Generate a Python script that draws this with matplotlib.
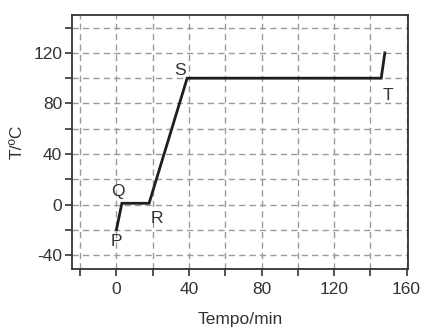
import matplotlib
matplotlib.use("Agg")
import matplotlib.pyplot as plt
from matplotlib.ticker import MultipleLocator

plt.rcParams['font.family'] = ['Liberation Sans', 'DejaVu Sans']
plt.rcParams['axes.unicode_minus'] = False

tempo = [0, 3, 18, 39, 146, 148]
temp = [-20, 1, 1, 100, 100, 120]
point_labels = ['P', 'Q', 'R', 'S', 'T']
label_pos = [(0, -29), (1, 10), (22.5, -11), (35, 106), (149.5, 86)]
xticks = [0, 40, 80, 120, 160]
yticks = [-40, 0, 40, 80, 120]

fig = plt.figure(figsize=(4.23, 3.27), dpi=100)
ax = fig.add_axes([72/423, 1-269/327, (407.5-72)/423, (269-15)/327])
ax.set_xlim(-24.5, 160.5)
ax.set_ylim(-51, 150)
ax.set_xticks(xticks)
ax.set_yticks(yticks)
ax.xaxis.set_minor_locator(MultipleLocator(20))
ax.yaxis.set_minor_locator(MultipleLocator(20))
ax.grid(True, which='both', linestyle=(0, (4.5, 3)), color='#9a9a9a', linewidth=1.0)
ax.set_axisbelow(True)
ax.tick_params(which='both', direction='out', length=5, width=1.2, color='#333333',
               labelsize=12.5, labelcolor='#333333', pad=2, top=False, right=False)
ax.tick_params(axis='x', pad=4)
for s in ax.spines.values():
    s.set_color('#333333')
    s.set_linewidth(1.3)

ax.plot(tempo, temp, color='#1e1e1e', linewidth=2.0, solid_joinstyle='miter')
for lab, (x, y) in zip(point_labels, label_pos):
    ax.text(x, y, lab, fontsize=12.5, color='#333333', ha='center', va='center')

ax.set_xlabel('Tempo/min', fontsize=12.5, color='#333333', labelpad=11)
ax.set_ylabel('T/ºC', fontsize=12.5, color='#333333', labelpad=6)
fig.savefig('out.png', dpi=100)
